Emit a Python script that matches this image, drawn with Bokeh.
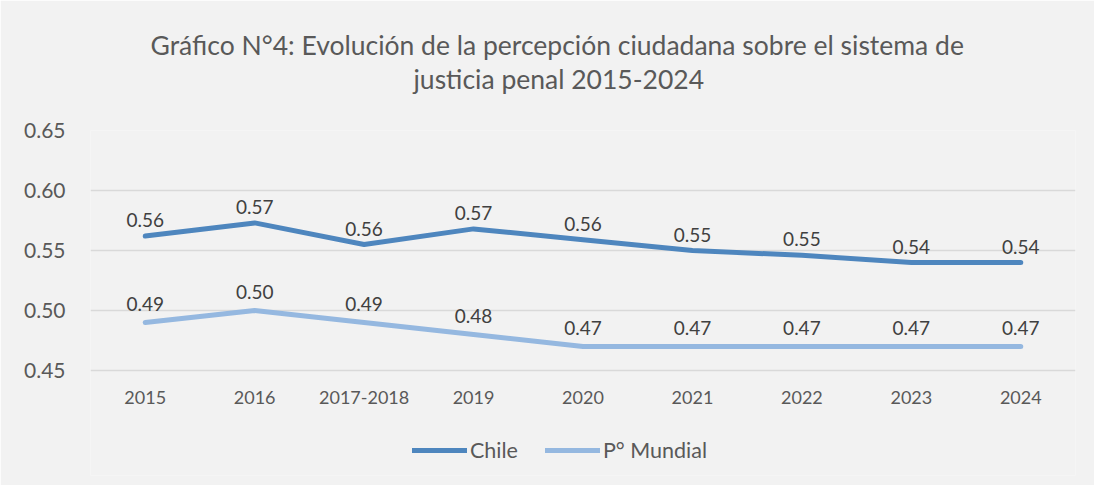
from bokeh.plotting import figure
from bokeh.models import (ColumnDataSource, Legend, LegendItem, Title, FactorRange,
                          NumeralTickFormatter, FixedTicker)
from bokeh.embed import file_html
from bokeh.resources import INLINE
from bokeh.core.properties import value

categories = ["2015", "2016", "2017-2018", "2019", "2020", "2021", "2022", "2023", "2024"]
chile = [0.562, 0.573, 0.555, 0.568, 0.559, 0.550, 0.546, 0.540, 0.540]
mundial = [0.490, 0.500, 0.490, 0.480, 0.470, 0.470, 0.470, 0.470, 0.470]
chile_labels = ["0.56", "0.57", "0.56", "0.57", "0.56", "0.55", "0.55", "0.54", "0.54"]
mundial_labels = ["0.49", "0.50", "0.49", "0.48", "0.47", "0.47", "0.47", "0.47", "0.47"]
y_ticks = [0.45, 0.50, 0.55, 0.60, 0.65]
title_line1 = "Gráfico N°4: Evolución de la percepción ciudadana sobre el sistema de"
title_line2 = "justicia penal 2015-2024"

FONT = "Lato"
BG = "#f2f2f2"
C_CHILE = "#4E86BE"
C_MUND = "#95B8E0"

# frame extends below the 0.45 gridline so the legend sits inside it
Y_MIN = 0.45 - 105 / 1200
Y_MAX = 0.65

src = ColumnDataSource(dict(x=categories, chile=chile, mundial=mundial,
                            cl=chile_labels, ml=mundial_labels))

p = figure(x_range=FactorRange(*categories, range_padding=0), y_range=(Y_MIN, Y_MAX),
           width=1094, height=485, output_backend="svg", toolbar_location=None,
           min_border_left=90, min_border_right=19, min_border_top=130, min_border_bottom=10,
           background_fill_color=BG, border_fill_color=BG, title=None)
p.outline_line_color = None

r1 = p.line("x", "chile", source=src, line_color=C_CHILE, line_width=5, line_cap="round", line_join="round")
r2 = p.line("x", "mundial", source=src, line_color=C_MUND, line_width=5, line_cap="round", line_join="round")

p.text("x", "chile", text="cl", source=src, text_align="center", text_baseline="middle",
       y_offset=-16, text_font=value(FONT), text_font_size="19px", text_color="#404040")
p.text("x", "mundial", text="ml", source=src, text_align="center", text_baseline="middle",
       y_offset=-19, text_font=value(FONT), text_font_size="19px", text_color="#404040")

p.xgrid.grid_line_color = None
p.ygrid.ticker = FixedTicker(ticks=y_ticks)
p.ygrid.grid_line_color = "#d9d9d9"
p.ygrid.grid_line_width = 1.5

p.yaxis.ticker = FixedTicker(ticks=y_ticks)
p.yaxis.formatter = NumeralTickFormatter(format="0.00")
for ax in (p.xaxis[0], p.yaxis[0]):
    ax.axis_line_color = None
    ax.major_tick_line_color = None
    ax.minor_tick_line_color = None
    ax.major_label_text_font = FONT
    ax.major_label_text_color = "#595959"
p.yaxis.major_label_text_font_size = "21px"
p.yaxis.major_label_standoff = 19
p.xaxis.major_label_text_font_size = "18px"
p.xaxis.major_label_standoff = 14
p.xaxis.fixed_location = y_ticks[0]

# spacer keeps the two title lines close together at the top
spacer = Title(text=" ", standoff=22, text_font=FONT, text_font_size="10px")
t2 = Title(text=title_line2, align="left", offset=323, standoff=0,
           text_font=FONT, text_font_size="26.5px", text_font_style="normal", text_color="#595959")
t1 = Title(text=title_line1, align="left", offset=60, standoff=0,
           text_font=FONT, text_font_size="26.5px", text_font_style="normal", text_color="#595959")
p.add_layout(spacer, "above")
p.add_layout(t2, "above")
p.add_layout(t1, "above")

legend = Legend(items=[LegendItem(label="Chile", renderers=[r1]),
                       LegendItem(label="P° Mundial", renderers=[r2])],
                location=(322, 12), orientation="horizontal",
                glyph_width=55, glyph_height=20, label_standoff=3, spacing=27,
                padding=0, margin=0, border_line_color=None, background_fill_alpha=0,
                label_text_font=FONT, label_text_font_size="21.5px", label_text_color="#595959")
p.add_layout(legend)

open("out.html", "w").write(file_html(p, INLINE))
